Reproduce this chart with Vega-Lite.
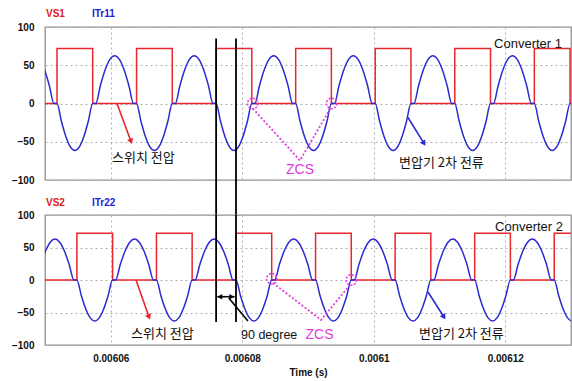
{
"$schema": "https://vega.github.io/schema/vega-lite/v6.json",
"padding": {"left": 10, "top": 7, "right": 2, "bottom": 2},
"spacing": 35,
"bounds": "flush",
"config": {
 "view": {"stroke": "#8f8f8f", "strokeWidth": 1.3},
 "font": "Liberation Sans",
 "axis": {"ticks": false, "domain": false, "grid": true, "gridColor": "#b0b0b0", "gridDash": [2,3], "gridWidth": 1, "labelFont": "Liberation Sans", "labelFontSize": 10, "labelFontWeight": "bold", "labelColor": "#111", "titleFont": "Liberation Sans", "titleFontSize": 10, "titleFontWeight": "bold", "titleColor": "#111"},
 "axisY": {"labelPadding": 11},
 "axisX": {"labelPadding": 8, "titlePadding": 4}
},
"datasets": {
 "vs1": [{"t":0.00605,"v":0},{"t":0.006051825,"v":72},{"t":0.006057255,"v":0},{"t":0.006063925,"v":72},{"t":0.006069355,"v":0},{"t":0.006076025,"v":72},{"t":0.006081455,"v":0},{"t":0.006088125,"v":72},{"t":0.006093555,"v":0},{"t":0.006100225,"v":72},{"t":0.006105655,"v":0},{"t":0.006112325,"v":72},{"t":0.006117755,"v":0},{"t":0.006124425,"v":72},{"t":0.006129855,"v":0},{"t":0.00613,"v":0}],
 "vs2": [{"t":0.00605,"v":0},{"t":0.00605485,"v":72},{"t":0.00606028,"v":0},{"t":0.00606695,"v":72},{"t":0.00607238,"v":0},{"t":0.00607905,"v":72},{"t":0.00608448,"v":0},{"t":0.00609115,"v":72},{"t":0.00609658,"v":0},{"t":0.00610325,"v":72},{"t":0.00610868,"v":0},{"t":0.00611535,"v":72},{"t":0.00612078,"v":0},{"t":0.00612745,"v":72},{"t":0.00613,"v":72}],
 "i1": [
  {"t":0.00604849,"v":62.5},{"t":0.006049209,"v":57.7},{"t":0.006049928,"v":44.2},{"t":0.006050646,"v":23.9},{"t":0.006051365,"v":0},
  {"t":0.006051825,"v":0},{"t":0.006052504,"v":-23.5},{"t":0.006053183,"v":-43.5},{"t":0.006053861,"v":-56.8},{"t":0.00605454,"v":-61.5},{"t":0.006055219,"v":-56.8},{"t":0.006055898,"v":-43.5},{"t":0.006056576,"v":-23.5},{"t":0.006057255,"v":0},{"t":0.006057715,"v":0},{"t":0.006058434,"v":23.9},{"t":0.006059153,"v":44.2},{"t":0.006059871,"v":57.7},{"t":0.00606059,"v":62.5},{"t":0.006061309,"v":57.7},{"t":0.006062028,"v":44.2},{"t":0.006062746,"v":23.9},{"t":0.006063465,"v":0},
  {"t":0.006063925,"v":0},{"t":0.006064604,"v":-23.5},{"t":0.006065283,"v":-43.5},{"t":0.006065961,"v":-56.8},{"t":0.00606664,"v":-61.5},{"t":0.006067319,"v":-56.8},{"t":0.006067998,"v":-43.5},{"t":0.006068676,"v":-23.5},{"t":0.006069355,"v":0},{"t":0.006069815,"v":0},{"t":0.006070534,"v":23.9},{"t":0.006071253,"v":44.2},{"t":0.006071971,"v":57.7},{"t":0.00607269,"v":62.5},{"t":0.006073409,"v":57.7},{"t":0.006074128,"v":44.2},{"t":0.006074846,"v":23.9},{"t":0.006075565,"v":0},
  {"t":0.006076025,"v":0},{"t":0.006076704,"v":-23.5},{"t":0.006077383,"v":-43.5},{"t":0.006078061,"v":-56.8},{"t":0.00607874,"v":-61.5},{"t":0.006079419,"v":-56.8},{"t":0.006080098,"v":-43.5},{"t":0.006080776,"v":-23.5},{"t":0.006081455,"v":0},{"t":0.006081915,"v":0},{"t":0.006082634,"v":23.9},{"t":0.006083353,"v":44.2},{"t":0.006084071,"v":57.7},{"t":0.00608479,"v":62.5},{"t":0.006085509,"v":57.7},{"t":0.006086228,"v":44.2},{"t":0.006086946,"v":23.9},{"t":0.006087665,"v":0},
  {"t":0.006088125,"v":0},{"t":0.006088804,"v":-23.5},{"t":0.006089483,"v":-43.5},{"t":0.006090161,"v":-56.8},{"t":0.00609084,"v":-61.5},{"t":0.006091519,"v":-56.8},{"t":0.006092198,"v":-43.5},{"t":0.006092876,"v":-23.5},{"t":0.006093555,"v":0},{"t":0.006094015,"v":0},{"t":0.006094734,"v":23.9},{"t":0.006095453,"v":44.2},{"t":0.006096171,"v":57.7},{"t":0.00609689,"v":62.5},{"t":0.006097609,"v":57.7},{"t":0.006098328,"v":44.2},{"t":0.006099046,"v":23.9},{"t":0.006099765,"v":0},
  {"t":0.006100225,"v":0},{"t":0.006100904,"v":-23.5},{"t":0.006101583,"v":-43.5},{"t":0.006102261,"v":-56.8},{"t":0.00610294,"v":-61.5},{"t":0.006103619,"v":-56.8},{"t":0.006104298,"v":-43.5},{"t":0.006104976,"v":-23.5},{"t":0.006105655,"v":0},{"t":0.006106115,"v":0},{"t":0.006106834,"v":23.9},{"t":0.006107553,"v":44.2},{"t":0.006108271,"v":57.7},{"t":0.00610899,"v":62.5},{"t":0.006109709,"v":57.7},{"t":0.006110428,"v":44.2},{"t":0.006111146,"v":23.9},{"t":0.006111865,"v":0},
  {"t":0.006112325,"v":0},{"t":0.006113004,"v":-23.5},{"t":0.006113683,"v":-43.5},{"t":0.006114361,"v":-56.8},{"t":0.00611504,"v":-61.5},{"t":0.006115719,"v":-56.8},{"t":0.006116398,"v":-43.5},{"t":0.006117076,"v":-23.5},{"t":0.006117755,"v":0},{"t":0.006118215,"v":0},{"t":0.006118934,"v":23.9},{"t":0.006119653,"v":44.2},{"t":0.006120371,"v":57.7},{"t":0.00612109,"v":62.5},{"t":0.006121809,"v":57.7},{"t":0.006122528,"v":44.2},{"t":0.006123246,"v":23.9},{"t":0.006123965,"v":0},
  {"t":0.006124425,"v":0},{"t":0.006125104,"v":-23.5},{"t":0.006125783,"v":-43.5},{"t":0.006126461,"v":-56.8},{"t":0.00612714,"v":-61.5},{"t":0.006127819,"v":-56.8},{"t":0.006128498,"v":-43.5},{"t":0.006129176,"v":-23.5},{"t":0.006129855,"v":0},{"t":0.006130315,"v":0}
 ],
 "i2": [
  {"t":0.00604864,"v":0},{"t":0.006049359,"v":24.1},{"t":0.006050078,"v":44.5},{"t":0.006050796,"v":58.2},{"t":0.006051515,"v":63},{"t":0.006052234,"v":58.2},{"t":0.006052953,"v":44.5},{"t":0.006053671,"v":24.1},{"t":0.00605439,"v":0},
  {"t":0.00605485,"v":0},{"t":0.006055529,"v":-24.1},{"t":0.006056208,"v":-44.5},{"t":0.006056886,"v":-58.2},{"t":0.006057565,"v":-63},{"t":0.006058244,"v":-58.2},{"t":0.006058923,"v":-44.5},{"t":0.006059601,"v":-24.1},{"t":0.00606028,"v":0},{"t":0.00606074,"v":0},{"t":0.006061459,"v":24.1},{"t":0.006062178,"v":44.5},{"t":0.006062896,"v":58.2},{"t":0.006063615,"v":63},{"t":0.006064334,"v":58.2},{"t":0.006065053,"v":44.5},{"t":0.006065771,"v":24.1},{"t":0.00606649,"v":0},
  {"t":0.00606695,"v":0},{"t":0.006067629,"v":-24.1},{"t":0.006068308,"v":-44.5},{"t":0.006068986,"v":-58.2},{"t":0.006069665,"v":-63},{"t":0.006070344,"v":-58.2},{"t":0.006071023,"v":-44.5},{"t":0.006071701,"v":-24.1},{"t":0.00607238,"v":0},{"t":0.00607284,"v":0},{"t":0.006073559,"v":24.1},{"t":0.006074278,"v":44.5},{"t":0.006074996,"v":58.2},{"t":0.006075715,"v":63},{"t":0.006076434,"v":58.2},{"t":0.006077153,"v":44.5},{"t":0.006077871,"v":24.1},{"t":0.00607859,"v":0},
  {"t":0.00607905,"v":0},{"t":0.006079729,"v":-24.1},{"t":0.006080408,"v":-44.5},{"t":0.006081086,"v":-58.2},{"t":0.006081765,"v":-63},{"t":0.006082444,"v":-58.2},{"t":0.006083123,"v":-44.5},{"t":0.006083801,"v":-24.1},{"t":0.00608448,"v":0},{"t":0.00608494,"v":0},{"t":0.006085659,"v":24.1},{"t":0.006086378,"v":44.5},{"t":0.006087096,"v":58.2},{"t":0.006087815,"v":63},{"t":0.006088534,"v":58.2},{"t":0.006089253,"v":44.5},{"t":0.006089971,"v":24.1},{"t":0.00609069,"v":0},
  {"t":0.00609115,"v":0},{"t":0.006091829,"v":-24.1},{"t":0.006092508,"v":-44.5},{"t":0.006093186,"v":-58.2},{"t":0.006093865,"v":-63},{"t":0.006094544,"v":-58.2},{"t":0.006095223,"v":-44.5},{"t":0.006095901,"v":-24.1},{"t":0.00609658,"v":0},{"t":0.00609704,"v":0},{"t":0.006097759,"v":24.1},{"t":0.006098478,"v":44.5},{"t":0.006099196,"v":58.2},{"t":0.006099915,"v":63},{"t":0.006100634,"v":58.2},{"t":0.006101353,"v":44.5},{"t":0.006102071,"v":24.1},{"t":0.00610279,"v":0},
  {"t":0.00610325,"v":0},{"t":0.006103929,"v":-24.1},{"t":0.006104608,"v":-44.5},{"t":0.006105286,"v":-58.2},{"t":0.006105965,"v":-63},{"t":0.006106644,"v":-58.2},{"t":0.006107323,"v":-44.5},{"t":0.006108001,"v":-24.1},{"t":0.00610868,"v":0},{"t":0.00610914,"v":0},{"t":0.006109859,"v":24.1},{"t":0.006110578,"v":44.5},{"t":0.006111296,"v":58.2},{"t":0.006112015,"v":63},{"t":0.006112734,"v":58.2},{"t":0.006113453,"v":44.5},{"t":0.006114171,"v":24.1},{"t":0.00611489,"v":0},
  {"t":0.00611535,"v":0},{"t":0.006116029,"v":-24.1},{"t":0.006116708,"v":-44.5},{"t":0.006117386,"v":-58.2},{"t":0.006118065,"v":-63},{"t":0.006118744,"v":-58.2},{"t":0.006119423,"v":-44.5},{"t":0.006120101,"v":-24.1},{"t":0.00612078,"v":0},{"t":0.00612124,"v":0},{"t":0.006121959,"v":24.1},{"t":0.006122678,"v":44.5},{"t":0.006123396,"v":58.2},{"t":0.006124115,"v":63},{"t":0.006124834,"v":58.2},{"t":0.006125553,"v":44.5},{"t":0.006126271,"v":24.1},{"t":0.00612699,"v":0},
  {"t":0.00612745,"v":0},{"t":0.006128129,"v":-24.1},{"t":0.006128808,"v":-44.5},{"t":0.006129486,"v":-58.2},{"t":0.006130165,"v":-63},{"t":0.006130844,"v":-58.2}
 ],
 "n1": [
  {"k":"lr","t":0.00605015,"v":117.5,"label":"VS1"},
  {"k":"lb","t":0.00605715,"v":117.5,"label":"ITr11"},
  {"k":"cv","t":0.00612863,"v":78.3,"label":"Converter 1"},
  {"k":"kr","t":0.00606019,"v":-71.8,"label":"스위치 전압"},
  {"k":"kr","t":0.00610384,"v":-78.3,"label":"변압기 2차 전류"},
  {"k":"zc","t":0.00608878,"v":-87.5,"label":"ZCS"}
 ],
 "n2": [
  {"k":"lr","t":0.00605015,"v":118.5,"label":"VS2"},
  {"k":"lb","t":0.00605715,"v":118.5,"label":"ITr22"},
  {"k":"cv","t":0.00612878,"v":81.5,"label":"Converter 2"},
  {"k":"kr","t":0.00606308,"v":-83,"label":"스위치 전압"},
  {"k":"kr","t":0.00610688,"v":-83,"label":"변압기 2차 전류"},
  {"k":"zc","t":0.00609175,"v":-84.6,"label":"ZCS"},
  {"k":"dg","t":0.00607981,"v":-84.6,"label":"90 degree"}
 ],
 "g1": [{"t":0.006076025,"v":85,"v2":-146},{"t":0.00607905,"v":85,"v2":-146}],
 "g2": [{"t":0.006076025,"v":100,"v2":-64.6},{"t":0.00607905,"v":100,"v2":-64.6}],
 "ar1": [{"k":"r","t":0.00606095,"v":0,"t2":0.00606308,"v2":-49.6},{"k":"b","t":0.00610521,"v":-18.3,"t2":0.00610764,"v2":-52.2}],
 "ar2": [{"k":"r","t":0.00606384,"v":0,"t2":0.00606582,"v2":-57},{"k":"b","t":0.00610825,"v":-18.5,"t2":0.00611068,"v2":-57},{"k":"k","t":0.0060762,"v":-25.7,"t2":0.00607885,"v2":-25.7},{"k":"k","t":0.00607795,"v":-27.7,"t2":0.00608087,"v2":-63}],
 "hd1": [{"k":"r","t":0.00606308,"v":-49.6},{"k":"b","t":0.00610764,"v":-52.2}],
 "hd2": [{"k":"r","t":0.00606582,"v":-57},{"k":"b","t":0.00611068,"v":-57},{"k":"L","t":0.0060766,"v":-25.7},{"k":"R","t":0.0060784,"v":-25.7}],
 "z1": [{"t":0.0060816,"v":-6.5},{"t":0.00608878,"v":-74.4},{"t":0.0060935,"v":-5}],
 "z2": [{"t":0.00608468,"v":-4.6},{"t":0.00609198,"v":-61.5},{"t":0.00609639,"v":-7.7}],
 "c1": [{"t":0.0060816,"v":0},{"t":0.0060936,"v":0}],
 "c2": [{"t":0.0060845,"v":2},{"t":0.0060966,"v":0}]
},
"vconcat": [
 {
  "width": 526, "height": 153,
  "encoding": {
   "x": {"field":"t","type":"quantitative","scale":{"domain":[0.00605,0.00613],"nice":false,"zero":false},"axis":{"values":[0.00606,0.00608,0.0061,0.00612],"labels":false,"title":null}},
   "y": {"field":"v","type":"quantitative","scale":{"domain":[-100,100],"nice":false,"zero":false},"axis":{"values":[-100,-50,0,50,100],"title":null}}
  },
  "layer": [
   {"data":{"name":"vs1"},"mark":{"type":"line","interpolate":"step-after","color":"#e8262e","strokeWidth":1.5,"clip":true}},
   {"data":{"name":"i1"},"mark":{"type":"line","interpolate":"monotone","color":"#2b2bd0","strokeWidth":1.5,"clip":true}},
   {"data":{"name":"z1"},"mark":{"type":"line","color":"#e03be0","strokeDash":[2,2],"strokeWidth":1.8}},
   {"data":{"name":"c1"},"mark":{"type":"point","shape":"circle","size":110,"filled":false,"color":"#e03be0","strokeDash":[2,1.5],"strokeWidth":1.5,"opacity":1}},
   {"data":{"name":"g1"},"mark":{"type":"rule","color":"#000000","strokeWidth":1.8},"encoding":{"y2":{"field":"v2"}}},
   {"data":{"name":"ar1"},"transform":[{"filter":"datum.k==='r'"}],"mark":{"type":"rule","color":"#e8262e","strokeWidth":1.6},"encoding":{"x2":{"field":"t2"},"y2":{"field":"v2"}}},
   {"data":{"name":"ar1"},"transform":[{"filter":"datum.k==='b'"}],"mark":{"type":"rule","color":"#2b2bd0","strokeWidth":1.6},"encoding":{"x2":{"field":"t2"},"y2":{"field":"v2"}}},
   {"data":{"name":"hd1"},"transform":[{"filter":"datum.k==='r'"}],"mark":{"type":"point","shape":"triangle-down","size":40,"filled":true,"color":"#e8262e","angle":339,"opacity":1}},
   {"data":{"name":"hd1"},"transform":[{"filter":"datum.k==='b'"}],"mark":{"type":"point","shape":"triangle-down","size":40,"filled":true,"color":"#2b2bd0","angle":328,"opacity":1}},
   {"data":{"name":"n1"},"transform":[{"filter":"datum.k==='lr'"}],"mark":{"type":"text","align":"left","fontWeight":"bold","fontSize":10,"color":"#e02020"},"encoding":{"text":{"field":"label"}}},
   {"data":{"name":"n1"},"transform":[{"filter":"datum.k==='lb'"}],"mark":{"type":"text","align":"left","fontWeight":"bold","fontSize":10,"color":"#2020e0"},"encoding":{"text":{"field":"label"}}},
   {"data":{"name":"n1"},"transform":[{"filter":"datum.k==='cv'"}],"mark":{"type":"text","align":"right","font":"Liberation Sans","fontSize":13,"color":"#111111"},"encoding":{"text":{"field":"label"}}},
   {"data":{"name":"n1"},"transform":[{"filter":"datum.k==='kr'"}],"mark":{"type":"text","align":"left","font":"Noto Sans CJK KR","fontSize":13,"color":"#111111"},"encoding":{"text":{"field":"label"}}},
   {"data":{"name":"n1"},"transform":[{"filter":"datum.k==='zc'"}],"mark":{"type":"text","align":"center","font":"Liberation Sans","fontSize":14,"color":"#e03be0"},"encoding":{"text":{"field":"label"}}}
  ]
 },
 {
  "width": 526, "height": 130,
  "encoding": {
   "x": {"field":"t","type":"quantitative","scale":{"domain":[0.00605,0.00613],"nice":false,"zero":false},"axis":{"values":[0.00606,0.00608,0.0061,0.00612],"format":"~g","title":"Time (s)"}},
   "y": {"field":"v","type":"quantitative","scale":{"domain":[-100,100],"nice":false,"zero":false},"axis":{"values":[-100,-50,0,50,100],"title":null}}
  },
  "layer": [
   {"data":{"name":"vs2"},"mark":{"type":"line","interpolate":"step-after","color":"#e8262e","strokeWidth":1.5,"clip":true}},
   {"data":{"name":"i2"},"mark":{"type":"line","interpolate":"monotone","color":"#2b2bd0","strokeWidth":1.5,"clip":true}},
   {"data":{"name":"z2"},"mark":{"type":"line","color":"#e03be0","strokeDash":[2,2],"strokeWidth":1.8}},
   {"data":{"name":"c2"},"mark":{"type":"point","shape":"circle","size":110,"filled":false,"color":"#e03be0","strokeDash":[2,1.5],"strokeWidth":1.5,"opacity":1}},
   {"data":{"name":"g2"},"mark":{"type":"rule","color":"#000000","strokeWidth":1.8},"encoding":{"y2":{"field":"v2"}}},
   {"data":{"name":"ar2"},"transform":[{"filter":"datum.k==='r'"}],"mark":{"type":"rule","color":"#e8262e","strokeWidth":1.6},"encoding":{"x2":{"field":"t2"},"y2":{"field":"v2"}}},
   {"data":{"name":"ar2"},"transform":[{"filter":"datum.k==='b'"}],"mark":{"type":"rule","color":"#2b2bd0","strokeWidth":1.6},"encoding":{"x2":{"field":"t2"},"y2":{"field":"v2"}}},
   {"data":{"name":"ar2"},"transform":[{"filter":"datum.k==='k'"}],"mark":{"type":"rule","color":"#000000","strokeWidth":1.6},"encoding":{"x2":{"field":"t2"},"y2":{"field":"v2"}}},
   {"data":{"name":"hd2"},"transform":[{"filter":"datum.k==='r'"}],"mark":{"type":"point","shape":"triangle-down","size":40,"filled":true,"color":"#e8262e","angle":339,"opacity":1}},
   {"data":{"name":"hd2"},"transform":[{"filter":"datum.k==='b'"}],"mark":{"type":"point","shape":"triangle-down","size":40,"filled":true,"color":"#2b2bd0","angle":328,"opacity":1}},
   {"data":{"name":"hd2"},"transform":[{"filter":"datum.k==='L'"}],"mark":{"type":"point","shape":"triangle-left","size":30,"filled":true,"color":"#000000","opacity":1}},
   {"data":{"name":"hd2"},"transform":[{"filter":"datum.k==='R'"}],"mark":{"type":"point","shape":"triangle-right","size":30,"filled":true,"color":"#000000","opacity":1}},
   {"data":{"name":"n2"},"transform":[{"filter":"datum.k==='lr'"}],"mark":{"type":"text","align":"left","fontWeight":"bold","fontSize":10,"color":"#e02020"},"encoding":{"text":{"field":"label"}}},
   {"data":{"name":"n2"},"transform":[{"filter":"datum.k==='lb'"}],"mark":{"type":"text","align":"left","fontWeight":"bold","fontSize":10,"color":"#2020e0"},"encoding":{"text":{"field":"label"}}},
   {"data":{"name":"n2"},"transform":[{"filter":"datum.k==='cv'"}],"mark":{"type":"text","align":"right","font":"Liberation Sans","fontSize":13,"color":"#111111"},"encoding":{"text":{"field":"label"}}},
   {"data":{"name":"n2"},"transform":[{"filter":"datum.k==='kr'"}],"mark":{"type":"text","align":"left","font":"Noto Sans CJK KR","fontSize":13,"color":"#111111"},"encoding":{"text":{"field":"label"}}},
   {"data":{"name":"n2"},"transform":[{"filter":"datum.k==='zc'"}],"mark":{"type":"text","align":"center","font":"Liberation Sans","fontSize":14,"color":"#e03be0"},"encoding":{"text":{"field":"label"}}},
   {"data":{"name":"n2"},"transform":[{"filter":"datum.k==='dg'"}],"mark":{"type":"text","align":"left","font":"Liberation Sans","fontSize":12.5,"color":"#111111"},"encoding":{"text":{"field":"label"}}}
  ]
 }
]
}
